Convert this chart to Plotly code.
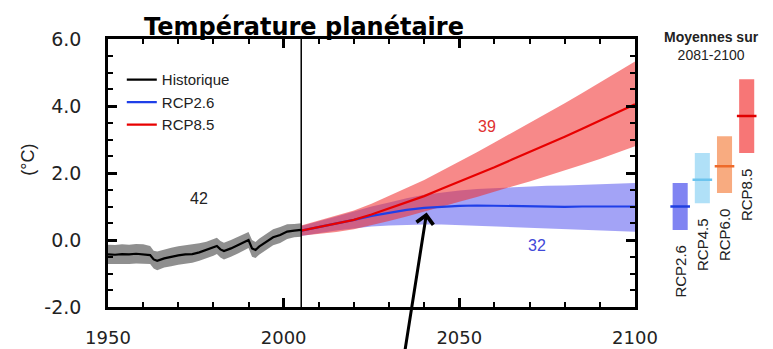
import plotly.graph_objects as go

# ---------------- data ----------------
hist_years = [1950, 1952, 1954, 1956, 1958, 1960, 1962, 1963, 1964, 1966, 1968, 1970,
              1972, 1974, 1976, 1978, 1980, 1981, 1982, 1983, 1985, 1987, 1989, 1990,
              1991, 1992, 1993, 1995, 1997, 1999, 2001, 2003, 2005]
hist_mean = [-0.43, -0.44, -0.42, -0.43, -0.41, -0.42, -0.45, -0.58, -0.62, -0.55, -0.50, -0.46,
             -0.43, -0.42, -0.37, -0.30, -0.22, -0.18, -0.28, -0.33, -0.25, -0.15, -0.05, 0.00,
             -0.25, -0.30, -0.20, -0.05, 0.08, 0.15, 0.25, 0.28, 0.30]
hist_low = [-0.72, -0.74, -0.72, -0.72, -0.70, -0.70, -0.72, -0.85, -0.90, -0.82, -0.78, -0.74,
            -0.70, -0.68, -0.62, -0.55, -0.47, -0.42, -0.52, -0.58, -0.50, -0.40, -0.30, -0.24,
            -0.50, -0.54, -0.44, -0.29, -0.16, -0.09, 0.03, 0.08, 0.10]
hist_high = [-0.14, -0.15, -0.13, -0.14, -0.12, -0.13, -0.18, -0.32, -0.34, -0.28, -0.23, -0.19,
             -0.16, -0.15, -0.10, -0.05, 0.04, 0.07, -0.03, -0.08, 0.00, 0.10, 0.19, 0.24,
             0.00, -0.06, 0.04, 0.19, 0.32, 0.39, 0.47, 0.48, 0.50]

fut_years = [2005, 2010, 2015, 2020, 2025, 2030, 2035, 2040, 2045, 2050,
             2055, 2060, 2065, 2070, 2075, 2080, 2085, 2090, 2095, 2100]
rcp85_mean = [0.28, 0.38, 0.48, 0.60, 0.76, 0.94, 1.12, 1.31, 1.53, 1.74,
              1.95, 2.17, 2.40, 2.62, 2.85, 3.08, 3.32, 3.56, 3.80, 4.05]
rcp85_low = [0.13, 0.18, 0.24, 0.32, 0.44, 0.57, 0.70, 0.83, 0.99, 1.14,
             1.28, 1.43, 1.60, 1.75, 1.91, 2.08, 2.25, 2.42, 2.60, 2.80]
rcp85_high = [0.43, 0.58, 0.72, 0.88, 1.08, 1.31, 1.54, 1.79, 2.07, 2.34,
              2.62, 2.91, 3.20, 3.49, 3.79, 4.08, 4.39, 4.70, 5.00, 5.33]
rcp26_mean = [0.28, 0.38, 0.50, 0.60, 0.72, 0.82, 0.90, 0.96, 1.00, 1.02,
              1.03, 1.02, 1.02, 1.00, 1.00, 0.99, 1.00, 1.00, 1.00, 1.00]
rcp26_low = [0.12, 0.20, 0.28, 0.35, 0.40, 0.43, 0.45, 0.46, 0.46, 0.45,
             0.43, 0.41, 0.39, 0.37, 0.35, 0.33, 0.31, 0.29, 0.27, 0.25]
rcp26_high = [0.42, 0.55, 0.70, 0.85, 1.00, 1.12, 1.25, 1.35, 1.42, 1.48,
              1.52, 1.55, 1.58, 1.60, 1.62, 1.63, 1.65, 1.66, 1.68, 1.70]

scen_names = ["RCP2.6", "RCP4.5", "RCP6.0", "RCP8.5"]
scen_mean = [1.0, 1.8, 2.2, 3.7]
scen_low = [0.3, 1.1, 1.4, 2.6]
scen_high = [1.7, 2.6, 3.1, 4.8]
scen_fill = ["#8084f2", "#b0e0f7", "#f8ab80", "#f77676"]
scen_line = ["#1f3fe0", "#6cc4ee", "#ee6a2a", "#e00000"]

x_tick_vals = [1950, 2000, 2050, 2100]
y_tick_vals = [-2.0, 0.0, 2.0, 4.0, 6.0]
y_tick_text = ["-2.0", "0.0", "2.0", "4.0", "6.0"]

# ---------------- figure ----------------
fig = go.Figure()

def band(xs, lo, hi, color):
    fig.add_trace(go.Scatter(x=xs + xs[::-1], y=hi + lo[::-1], fill="toself",
                             fillcolor=color, line=dict(width=0), mode="lines",
                             hoverinfo="skip", showlegend=False))

band(hist_years, hist_low, hist_high, "rgba(128,128,128,0.88)")
band(fut_years, rcp26_low, rcp26_high, "rgba(60,60,235,0.47)")
band(fut_years, rcp85_low, rcp85_high, "rgba(240,45,45,0.56)")

fig.add_trace(go.Scatter(x=hist_years, y=hist_mean, mode="lines", name="Historique",
                         line=dict(color="black", width=2.2)))
fig.add_trace(go.Scatter(x=fut_years, y=rcp26_mean, mode="lines", name="RCP2.6",
                         line=dict(color="#1f3fe8", width=2.2)))
fig.add_trace(go.Scatter(x=fut_years, y=rcp85_mean, mode="lines", name="RCP8.5",
                         line=dict(color="#e80000", width=2.2)))

# right panel: 2081-2100 means
fig.add_trace(go.Bar(x=list(range(len(scen_names))),
                     y=[h - l for h, l in zip(scen_high, scen_low)],
                     base=scen_low, marker=dict(color=scen_fill, line=dict(width=0)),
                     width=0.68, xaxis="x2", yaxis="y2", showlegend=False,
                     hoverinfo="skip"))
fig.add_trace(go.Scatter(x=list(range(len(scen_names))), y=scen_mean, mode="markers",
                         marker=dict(symbol="line-ew", size=14,
                                     line=dict(color=scen_line, width=2.5)),
                         xaxis="x2", yaxis="y2", showlegend=False, hoverinfo="skip"))

for i, name in enumerate(scen_names):
    fig.add_annotation(x=i, y=scen_low[i], xref="x2", yref="y2", text=name,
                       textangle=-90, showarrow=False, yanchor="top", xanchor="center",
                       yshift=-13, font=dict(size=15, color="#222222",
                                              family="Liberation Sans, Arial"))

fig.add_annotation(x=0.918, y=1.0, xref="paper", yref="paper",
                   text="<b>Moyennes sur</b><br>2081-2100", showarrow=False,
                   xanchor="center", yanchor="top", yshift=12,
                   font=dict(size=14, color="#222222", family="Liberation Sans, Arial"))

# y axis title
fig.add_annotation(x=-0.123, y=0.55, xref="paper", yref="paper", text="(°C)",
                   textangle=-90, showarrow=False, xanchor="center", yanchor="middle",
                   font=dict(size=18, color="#222222", family="Liberation Sans, Arial"))

# scenario count labels
fig.add_annotation(x=1976, y=1.25, text="42", showarrow=False,
                   font=dict(size=16, color="#222222", family="Liberation Sans, Arial"))
fig.add_annotation(x=2058, y=3.4, text="39", showarrow=False,
                   font=dict(size=16, color="#e03030", family="Liberation Sans, Arial"))
fig.add_annotation(x=2072, y=-0.15, text="32", showarrow=False,
                   font=dict(size=16, color="#4048d8", family="Liberation Sans, Arial"))

# arrow
fig.add_annotation(x=2040.7, y=0.82, ax=-22, ay=140, showarrow=True, arrowhead=4,
                   arrowsize=1.1, arrowwidth=3, arrowcolor="black", text="")

# title
fig.add_annotation(x=0.299, y=1.0, xref="paper", yref="paper",
                   text="<b>Température planétaire</b>", showarrow=False,
                   xanchor="center", yanchor="bottom", yshift=-4,
                   font=dict(size=24, color="black", family="DejaVu Sans"))

fig.add_shape(type="line", x0=2005, x1=2005, y0=0, y1=1, xref="x", yref="y domain",
              line=dict(color="black", width=1.5))

axis_common = dict(showline=True, linecolor="black", linewidth=2.5, mirror="ticks",
                   ticks="inside", tickcolor="black", tickwidth=2.5, ticklen=9,
                   showgrid=False, zeroline=False, automargin=False)

fig.update_layout(
    width=773, height=349,
    margin=dict(l=100, r=16, t=31, b=50),
    paper_bgcolor="white", plot_bgcolor="white",
    font=dict(family="Liberation Sans, Arial", color="#222222"),
    xaxis=dict(domain=[0, 0.8021], range=[1950, 2100], tickmode="array",
               tickvals=x_tick_vals, ticklabelstandoff=13,
               tickfont=dict(size=18, color="#222222", family="DejaVu Sans"),
               minor=dict(tickmode="array",
                          tickvals=list(range(x_tick_vals[0], x_tick_vals[-1] + 1, 10)),
                          ticks="inside", ticklen=5, tickwidth=1.5, tickcolor="black"),
               **axis_common),
    yaxis=dict(range=[-2, 6], tickmode="array", tickvals=y_tick_vals,
               ticktext=y_tick_text, ticklabelstandoff=20,
               tickfont=dict(size=19, color="#222222", family="DejaVu Sans"),
               minor=dict(tickmode="array",
                          tickvals=[v / 2 for v in range(-4, 13)],
                          ticks="inside", ticklen=5, tickwidth=1.5, tickcolor="black"),
               **axis_common),
    xaxis2=dict(domain=[0.854, 0.989], range=[-0.5, 3.5], anchor="y2", visible=False),
    yaxis2=dict(domain=[0, 1], range=[-2, 6], anchor="x2", visible=False),
    legend=dict(x=0.021, y=0.909, xanchor="left", yanchor="top",
                bgcolor="rgba(0,0,0,0)", font=dict(size=15, color="#222222"),
                tracegroupgap=0, itemwidth=30),
    showlegend=True,
)

fig.write_html("out.html")
